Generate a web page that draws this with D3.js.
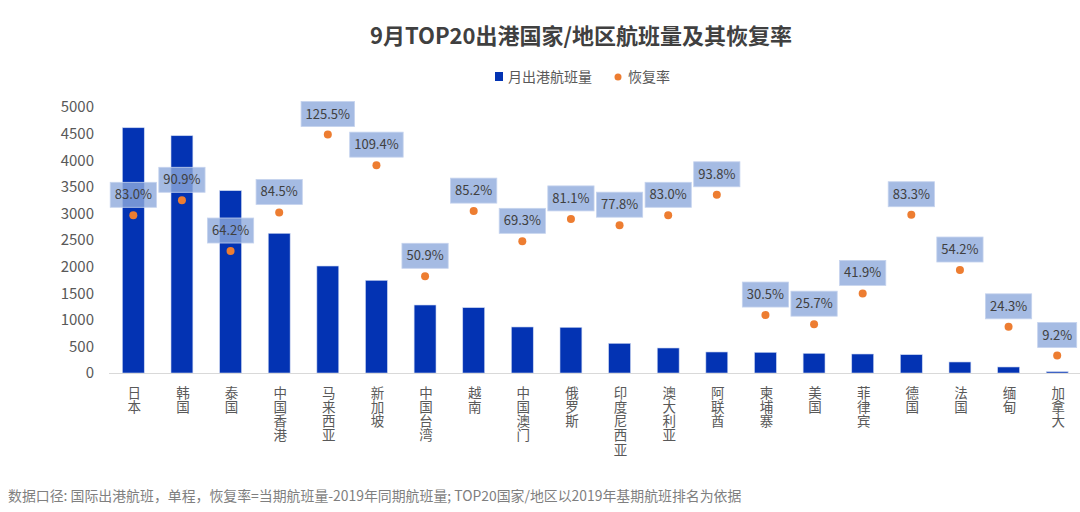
<!DOCTYPE html>
<html><head><meta charset="utf-8">
<script src="https://cdn.jsdelivr.net/npm/d3@7"></script>
<style>
html,body{margin:0;padding:0;background:#fff;}
svg{display:block;font-family:"Noto Sans CJK SC","Microsoft YaHei",sans-serif;}
.vlab{writing-mode:vertical-rl;text-orientation:upright;}
</style></head>
<body>
<svg id="chart" width="1080" height="512"></svg>
<script>
const categories = ["日本","韩国","泰国","中国香港","马来西亚","新加坡","中国台湾","越南","中国澳门","俄罗斯","印度尼西亚","澳大利亚","阿联酋","柬埔寨","美国","菲律宾","德国","法国","缅甸","加拿大"];
const flights = [4610,4460,3427,2626,2011,1742,1278,1228,865,859,558,470,395,389,370,357,344,207,113,25];
const recovery = [83.0,90.9,64.2,84.5,125.5,109.4,50.9,85.2,69.3,81.1,77.8,83.0,93.8,30.5,25.7,41.9,83.3,54.2,24.3,9.2];
const yTicks = [0,500,1000,1500,2000,2500,3000,3500,4000,4500,5000];
const titleText = "9月TOP20出港国家/地区航班量及其恢复率";
const legendLabels = ["月出港航班量","恢复率"];
const footnote = "数据口径: 国际出港航班，单程，恢复率=当期航班量-2019年同期航班量; TOP20国家/地区以2019年基期航班排名为依据";

const svg = d3.select("#chart");
const x = d3.scaleBand().domain(categories).range([109, 1081.5]).padding(0);
const y = d3.scaleLinear().domain([0, 5000]).range([373, 107]);
const y2 = d3.scaleLinear().domain([0, 140]).range([373, 107]);
const barW = x.bandwidth() * 0.45;

// title
svg.append("text").attr("x", 581).attr("y", 44).attr("text-anchor", "middle")
  .attr("font-size", 22).attr("font-weight", "bold").attr("fill", "#404040").text(titleText);

// legend
svg.append("rect").attr("x", 495).attr("y", 72).attr("width", 8).attr("height", 9).attr("fill", "#0333b3");
svg.append("text").attr("x", 508).attr("y", 82).attr("font-size", 14).attr("fill", "#595959").text(legendLabels[0]);
svg.append("circle").attr("cx", 618).attr("cy", 77).attr("r", 3.5).attr("fill", "#ed7d31");
svg.append("text").attr("x", 628).attr("y", 82).attr("font-size", 14).attr("fill", "#595959").text(legendLabels[1]);

// y axis
const yAxis = svg.append("g").attr("transform", "translate(94,0)")
  .call(d3.axisLeft(y).tickValues(yTicks).tickFormat(d3.format("d")).tickSize(0).tickPadding(0));
yAxis.select(".domain").remove();
yAxis.selectAll("text").attr("font-size", 15).attr("fill", "#595959")
  .attr("font-family", "\"Noto Sans CJK SC\",sans-serif");

// bars
svg.append("g").selectAll("rect").data(flights).join("rect")
  .attr("x", (d, i) => x(categories[i]) + x.bandwidth() / 2 - barW / 2)
  .attr("y", d => y(d))
  .attr("width", barW)
  .attr("height", d => y(0) - y(d))
  .attr("fill", "#0333b3")
  .attr("stroke", "#c9d5f0").attr("stroke-width", 0.6);

// baseline
svg.append("line").attr("x1", 109).attr("x2", 1080).attr("y1", 373.5).attr("y2", 373.5)
  .attr("stroke", "#d9d9d9").attr("stroke-width", 1);

// x labels (vertical text)
svg.append("g").selectAll("text").data(categories).join("text")
  .attr("class", "vlab")
  .attr("x", d => x(d) + x.bandwidth() / 2 + 1)
  .attr("y", 386)
  .attr("font-size", 13.5)
  .attr("letter-spacing", 0.7)
  .attr("fill", "#595959")
  .text(d => d);

// recovery dots
svg.append("g").selectAll("circle").data(recovery).join("circle")
  .attr("cx", (d, i) => x(categories[i]) + x.bandwidth() / 2)
  .attr("cy", d => y2(d))
  .attr("r", 4).attr("fill", "#ed7d31");

// labels with boxes
const lg = svg.append("g").selectAll("g").data(recovery).join("g")
  .attr("transform", (d, i) => `translate(${x(categories[i]) + x.bandwidth() / 2},${y2(d) - 20.5})`);
lg.each(function(d) {
  const g = d3.select(this);
  const label = d.toFixed(1) + "%";
  const txt = g.append("text").attr("text-anchor", "middle").attr("y", 4.5)
    .attr("font-size", 13).attr("fill", "#404040").text(label);
  const w = txt.node().getComputedTextLength() + 9;
  g.insert("rect", "text").attr("x", -w / 2).attr("y", -12.5).attr("width", w).attr("height", 25)
    .attr("fill", "#8eaadc").attr("fill-opacity", 0.8)
    .attr("stroke", "#c5d3ee").attr("stroke-width", 0.8);
});

// footnote
svg.append("text").attr("x", 8).attr("y", 501).attr("font-size", 13.9).attr("fill", "#7f7f7f").text(footnote);
</script>
</body></html>
